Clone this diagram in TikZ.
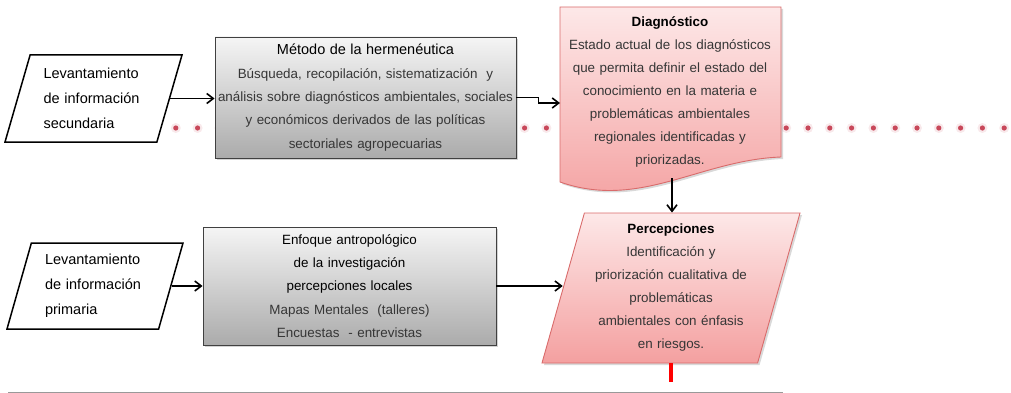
\documentclass[tikz,border=0pt]{standalone}
\usepackage{fontspec}
\setmainfont{Liberation Sans}
\usetikzlibrary{shapes.geometric,arrows.meta,shadows}
\definecolor{pinkline}{HTML}{D96B6B}
\definecolor{pinktop}{HTML}{FDE8E8}
\definecolor{pinkbot}{HTML}{F4A0A0}
\definecolor{graytop}{HTML}{F5F5F5}
\definecolor{graybot}{HTML}{ABABAB}
\definecolor{dotred}{HTML}{C8485A}
\definecolor{bodytext}{HTML}{363636}
\begin{document}
\begin{tikzpicture}[x=1pt,y=-1pt,
  >={Straight Barb[length=6.5pt,width=10pt]},
  inbox/.style={trapezium,draw,fill=white,line width=1.5pt,inner sep=0pt,
    trapezium stretches body,text width=100pt,align=left,
    font=\fontsize{14.5}{25}\selectfont},
  graybox/.style={rectangle,draw=black!75,line width=0.9pt,
    top color=graytop,bottom color=graybot,inner sep=0pt,align=center,
    drop shadow={opacity=0.35,shadow xshift=2pt,shadow yshift=-2pt},
    font=\fontsize{13.4}{23.3}\selectfont},
  pinkshape/.style={draw=pinkline,line width=0.9pt,
    top color=pinktop,bottom color=pinkbot,
    drop shadow={opacity=0.3,shadow xshift=2pt,shadow yshift=-2pt}},
  link/.style={->,line width=1.6pt}]
  \useasboundingbox (0,0) rectangle (1011,393);

  % dotted line behind everything
  \foreach \k in {0,...,39}{
    \fill[dotred,opacity=0.12] (154+21.8*\k,128) circle[radius=5pt];
    \fill[dotred] (154+21.8*\k,128) circle[radius=2.6pt];
  }

  % inputs
  \node[inbox,trapezium left angle=67.5,trapezium right angle=112.5,
    minimum width=177pt,minimum height=87pt] (sec) at (93.5,98.5)
    {Levantamiento\\de información\\secundaria};
  \node[inbox,trapezium left angle=69,trapezium right angle=111,
    minimum width=176pt,minimum height=86pt] (prim) at (95,286)
    {Levantamiento\\de información\\primaria};

  % methods
  \node[graybox,minimum width=301pt,minimum height=121pt,text width=297pt] (herm) at (365.5,97.5)
    {{\fontsize{14.5}{23.3}\selectfont Método de la hermenéutica}\\
     \color{bodytext}Búsqueda, recopilación, sistematización\ \ y\\
     análisis sobre diagnósticos ambientales, sociales\\
     y económicos derivados de las políticas\\
     sectoriales agropecuarias};
  \node[graybox,minimum width=293pt,minimum height=118pt,text width=285pt] (enf) at (349.5,286)
    {Enfoque antropológico\\de la investigación\\percepciones locales\\
     \color{bodytext}Mapas Mentales\ \ (talleres)\\Encuestas\ \ - entrevistas};

  % results
  \draw[pinkshape] (560,7) -- (781,7) -- (781,157)
    .. controls (700,160) and (640,210) .. (560,182) -- cycle;
  \node[inner sep=0pt,text width=215pt,align=center,
    font=\fontsize{13.4}{23}\selectfont] (diag) at (670,92)
    {\textbf{Diagnóstico}\\
     \color{bodytext}Estado actual de los diagnósticos\\
     que permita definir el estado del\\
     conocimiento en la materia e\\
     problemáticas ambientales\\
     regionales identificadas y\\
     priorizadas.};
  \coordinate (diagin) at (560,103);
  \coordinate (diagout) at (672,178);
  \node[pinkshape,trapezium,trapezium left angle=71.6,trapezium right angle=108.4,
    trapezium stretches body,minimum width=258pt,minimum height=150pt,
    inner sep=0pt,text width=158pt,align=center,
    font=\fontsize{13.4}{23}\selectfont] (perc) at (671,288)
    {\textbf{Percepciones}\\
     \color{bodytext}Identificación y\\
     priorización cualitativa de\\
     problemáticas\\
     ambientales con énfasis\\
     en riesgos.};

  % connectors
  \draw[link] (sec.east) -- (sec.east -| herm.west);
  \draw[link] (herm.east) -- ++(22,0) |- (diagin);
  \draw[link] (diagout) -- (diagout |- perc.north);
  \draw[link] (prim.east) -- (prim.east -| enf.west);
  \draw[link] (enf.east) -- (enf.east -| perc.west);
  \draw[red,line width=4pt] (perc.south) -- ++(0,19);

  \draw[black!40,line width=1pt] (8,392) -- (783,392);
\end{tikzpicture}
\end{document}
